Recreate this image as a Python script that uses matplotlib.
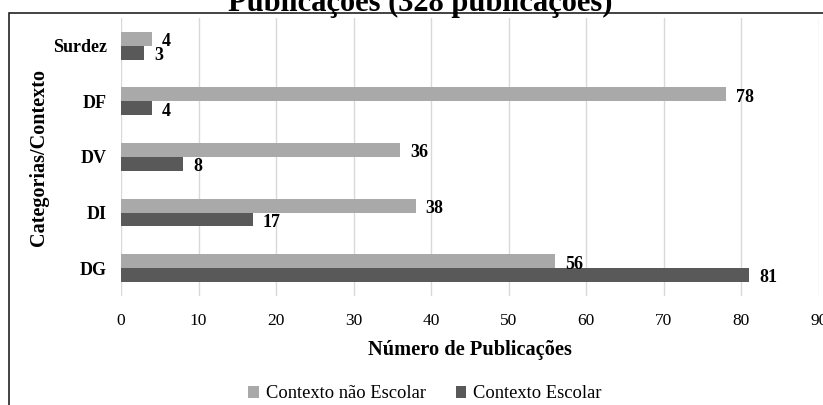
import matplotlib.pyplot as plt
from matplotlib.patches import Rectangle
import numpy as np

categorias = ["Surdez", "DF", "DV", "DI", "DG"]
nao_escolar = [4, 78, 36, 38, 56]
escolar = [3, 4, 8, 17, 81]

cor_clara = "#a9a9a9"
cor_escura = "#595959"

plt.rcParams['font.family'] = ['Liberation Serif', 'DejaVu Serif']

fig = plt.figure(figsize=(8.23, 4.05), dpi=100)
W, H = 823, 405
ax = fig.add_axes([121 / W, 1 - 296 / H, (819 - 121) / W, (296 - 18) / H])

# moldura do grafico original (cortada)
fig.patches.append(Rectangle((9 / W, -0.1), 1.2, 1 - 13 / H + 0.1, transform=fig.transFigure,
                             fill=False, edgecolor="#222222", linewidth=1.2))

y = np.arange(len(categorias))
h = 0.25
b1 = ax.barh(y - h / 2, nao_escolar, height=h, color=cor_clara, label="Contexto não Escolar", zorder=2)
b2 = ax.barh(y + h / 2, escolar, height=h, color=cor_escura, label="Contexto Escolar", zorder=2)

for bars, vals in ((b1, nao_escolar), (b2, escolar)):
    for r, v in zip(bars, vals):
        ax.text(v + 1.3, r.get_y() + r.get_height() * 0.7, str(v), fontsize=13, fontweight="bold",
                va="center", ha="left")

ax.set_ylim(len(categorias) - 0.5, -0.5)
ax.set_xlim(0, 90)
ax.set_xticks(np.arange(0, 91, 10))
ax.set_yticks(y)
ax.set_yticklabels(categorias, fontweight="bold", fontsize=13)
ax.tick_params(axis="x", labelsize=12.5, length=0, pad=12)
ax.tick_params(axis="y", length=0, pad=10)
ax.grid(axis="x", color="#d9d9d9", linewidth=1, zorder=0)
for s in ax.spines.values():
    s.set_visible(False)

ax.set_xlabel("Número de Publicações", fontsize=14.7, fontweight="bold", labelpad=8)
ax.set_ylabel("Categorias/Contexto", fontsize=14.5, fontweight="bold", labelpad=3)

fig.text(420 / W, 1 - 3 / H, "Publicações (328 publicações)", ha="center", va="center",
         fontsize=22, fontweight="bold")

fig.legend(handles=[b1, b2], loc="center", bbox_to_anchor=(425 / W, 1 - 394 / H), ncol=2,
           frameon=False, fontsize=13.3, handlelength=0.55, handleheight=0.55, columnspacing=1.6,
           handletextpad=0.4)

fig.savefig("out.png", dpi=100)
